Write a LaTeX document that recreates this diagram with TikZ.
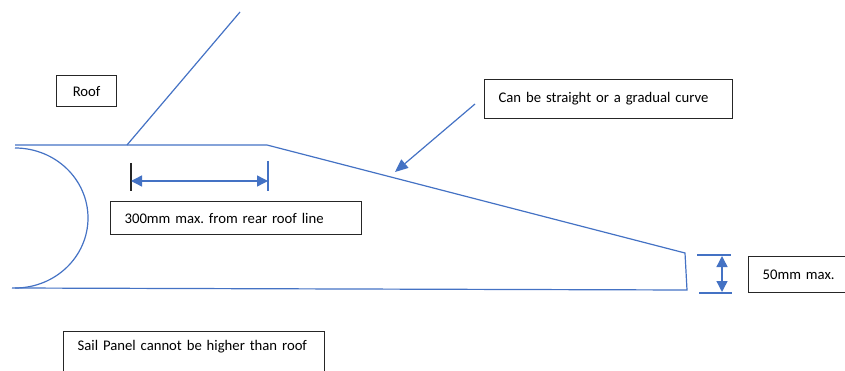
\documentclass[tikz,border=0pt]{standalone}
\usepackage{fontspec}
\setmainfont{Carlito}
\frenchspacing
\usetikzlibrary{arrows.meta}
\definecolor{lineblue}{RGB}{68,114,196}
\definecolor{boxgrey}{RGB}{38,38,38}
\tikzset{
  shape line/.style={draw=lineblue,line width=1.2pt},
  dim arrow/.style={draw=lineblue,line width=1.4pt,{Triangle[length=11pt,width=11pt]}-{Triangle[length=11pt,width=11pt]}},
  pointer/.style={draw=lineblue,line width=1.2pt,-{Triangle[length=13pt,width=11pt]}},
  note/.style={draw=boxgrey,line width=1.2pt,anchor=north west,inner xsep=14pt,inner ysep=0pt,align=left,font=\fontsize{14.7}{17}\selectfont}
}
\begin{document}
\begin{tikzpicture}[x=1pt,y=-1pt]
            \useasboundingbox(0,0)rectangle(845,371);
            % sail panel outline
            \coordinate(rear)at(15,145);
            \coordinate(kink)at(267,145);
            \coordinate(tipt)at(685,253);
            \coordinate(tipb)at(687,290);
            \coordinate(base)at(12,288);
            \coordinate(arct)at(15,148);
            \coordinate(roofa)at(127,145);
            \coordinate(roofb)at(240,12);
            \draw[shape line](rear)--(kink)--(tipt)--(tipb)--(base);
            \draw[shape line](arct)arc[start angle=90,end angle=-90,x radius=73pt,y radius=70pt];
            \draw[shape line](roofa)--(roofb);
            % labels
            \node[note,minimum width=60pt,minimum height=31pt,inner xsep=0pt,align=center](roof)at(56,75){Roof};
            \node[note,text width=223pt,minimum height=33pt](rule)at(110,201){300mm max. from rear roof line};
            \node[note,text width=220pt,minimum height=39pt](curve)at(484,79){Can be straight or a gradual curve};
            \node[note,text width=92pt,minimum height=36pt](tipnote)at(748,256){50mm max.};
            \node[note,text width=233pt,minimum height=62pt,anchor=north west,text depth=34pt](sail)at(63,331){Sail Panel cannot be higher than roof};
            % 300mm dimension
            \coordinate(ta)at(131,163);
            \coordinate(tb)at(131,191);
            \coordinate(tc)at(268,161);
            \coordinate(td)at(268,191);
            \draw[line width=1.2pt,boxgrey](ta)--(tb);
            \draw[shape line](tc)--(td);
            \coordinate(da)at(131,181);
            \coordinate(db)at(268,181);
            \draw[dim arrow](da)--(db);
            % 50mm dimension
            \coordinate(ua)at(697,255);
            \coordinate(ub)at(731,255);
            \coordinate(uc)at(699,293);
            \coordinate(ud)at(732,293);
            \draw[shape line](ua)--(ub);
            \draw[shape line](uc)--(ud);
            \coordinate(va)at(722,256);
            \coordinate(vb)at(722,292);
            \draw[dim arrow](va)--(vb);
            % pointer to slope
            \coordinate(pa)at(475,104);
            \coordinate(pb)at(395,172);
            \draw[pointer](pa)--(pb);
        \end{tikzpicture}
\end{document}
